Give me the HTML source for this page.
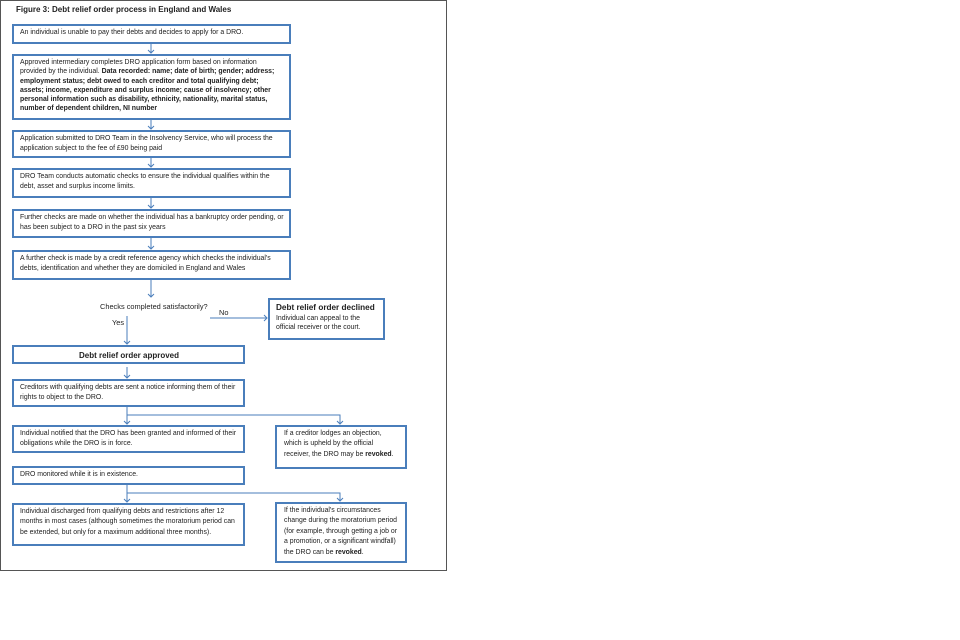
<!DOCTYPE html>
<html><head><meta charset="utf-8"><style>
body{margin:0;width:960px;height:640px;background:#fff;position:relative;overflow:hidden;font-family:"Liberation Sans",sans-serif;color:#222}
.f{position:absolute;left:0;top:0;width:445px;height:569px;border:1px solid #555}
.b{position:absolute;border:2px solid #4a7ebb;box-sizing:border-box;font-size:6.9px;line-height:10.4px;padding:2px 5px 0 6px;background:#fff}
.t{position:absolute;font-size:7.4px;white-space:nowrap}
svg{position:absolute;left:0;top:0}
</style></head><body>
<div class="f"></div>
<div class="t" style="left:16px;top:5px;font-size:8px;font-weight:bold">Figure 3: Debt relief order process in England and Wales</div>
<svg width="960" height="640" fill="none" stroke="#4a7ebb" stroke-width="1">
<g>
<line x1="151" y1="43" x2="151" y2="53"/><polyline points="148,50 151,53 154,50"/>
<line x1="151" y1="119" x2="151" y2="129"/><polyline points="148,126 151,129 154,126"/>
<line x1="151" y1="157" x2="151" y2="167"/><polyline points="148,164 151,167 154,164"/>
<line x1="151" y1="197" x2="151" y2="208"/><polyline points="148,205 151,208 154,205"/>
<line x1="151" y1="237" x2="151" y2="249"/><polyline points="148,246 151,249 154,246"/>
<line x1="151" y1="279" x2="151" y2="297"/><polyline points="148,294 151,297 154,294"/>
<line x1="210" y1="318" x2="267" y2="318"/><polyline points="264,315 267,318 264,321"/>
<line x1="127" y1="316" x2="127" y2="344"/><polyline points="124,341 127,344 130,341"/>
<line x1="127" y1="367" x2="127" y2="378"/><polyline points="124,375 127,378 130,375"/>
<line x1="127" y1="406" x2="127" y2="424"/><polyline points="124,421 127,424 130,421"/>
<polyline points="127,415 340,415 340,424"/><polyline points="337,421 340,424 343,421"/>
<line x1="127" y1="484" x2="127" y2="502"/><polyline points="124,499 127,502 130,499"/>
<polyline points="127,493 340,493 340,501"/><polyline points="337,498 340,501 343,498"/>
</g></svg>
<div class="b" style="left:12px;top:24px;width:279px;height:20px;">An individual is unable to pay their debts and decides to apply for a DRO.</div>
<div class="b" style="left:12px;top:54px;width:279px;height:66px;line-height:9.3px">Approved intermediary completes DRO application form based on information provided by the individual. <b>Data recorded: name; date of birth; gender; address; employment status; debt owed to each creditor and total qualifying debt; assets; income, expenditure and surplus income; cause of insolvency; other personal information such as disability, ethnicity, nationality, marital status, number of dependent children, NI number</b></div>
<div class="b" style="left:12px;top:130px;width:279px;height:28px;">Application submitted to DRO Team in the Insolvency Service, who will process the application subject to the fee of £90 being paid</div>
<div class="b" style="left:12px;top:168px;width:279px;height:30px;">DRO Team conducts automatic checks to ensure the individual qualifies within the debt, asset and surplus income limits.</div>
<div class="b" style="left:12px;top:209px;width:279px;height:29px;">Further checks are made on whether the individual has a bankruptcy order pending, or has been subject to a DRO in the past six years</div>
<div class="b" style="left:12px;top:250px;width:279px;height:30px;">A further check is made by a credit reference agency which checks the individual's debts, identification and whether they are domiciled in England and Wales</div>
<div class="t" style="left:100px;top:302px">Checks completed satisfactorily?</div>
<div class="t" style="left:219px;top:308px">No</div>
<div class="t" style="left:112px;top:318px">Yes</div>
<div class="b" style="left:268px;top:298px;width:117px;height:42px;line-height:9.5px;padding-top:3px"><b style="font-size:8.2px">Debt relief order declined</b><br>Individual can appeal to the official receiver or the court.</div>
<div class="b" style="left:12px;top:345px;width:233px;height:19px;text-align:center;font-weight:bold;font-size:8px;line-height:14px">Debt relief order approved</div>
<div class="b" style="left:12px;top:379px;width:233px;height:28px;">Creditors with qualifying debts are sent a notice informing them of their rights to object to the DRO.</div>
<div class="b" style="left:12px;top:425px;width:233px;height:28px;">Individual notified that the DRO has been granted and informed of their obligations while the DRO is in force.</div>
<div class="b" style="left:275px;top:425px;width:132px;height:44px;padding-left:7px">If a creditor lodges an objection, which is upheld by the official receiver, the DRO may be <b>revoked</b>.</div>
<div class="b" style="left:12px;top:466px;width:233px;height:19px;">DRO monitored while it is in existence.</div>
<div class="b" style="left:12px;top:503px;width:233px;height:43px;">Individual discharged from qualifying debts and restrictions after 12 months in most cases (although sometimes the moratorium period can be extended, but only for a maximum additional three months).</div>
<div class="b" style="left:275px;top:502px;width:132px;height:61px;padding-left:7px">If the individual's circumstances change during the moratorium period (for example, through getting a job or a promotion, or a significant windfall) the DRO can be <b>revoked</b>.</div>
</body></html>
